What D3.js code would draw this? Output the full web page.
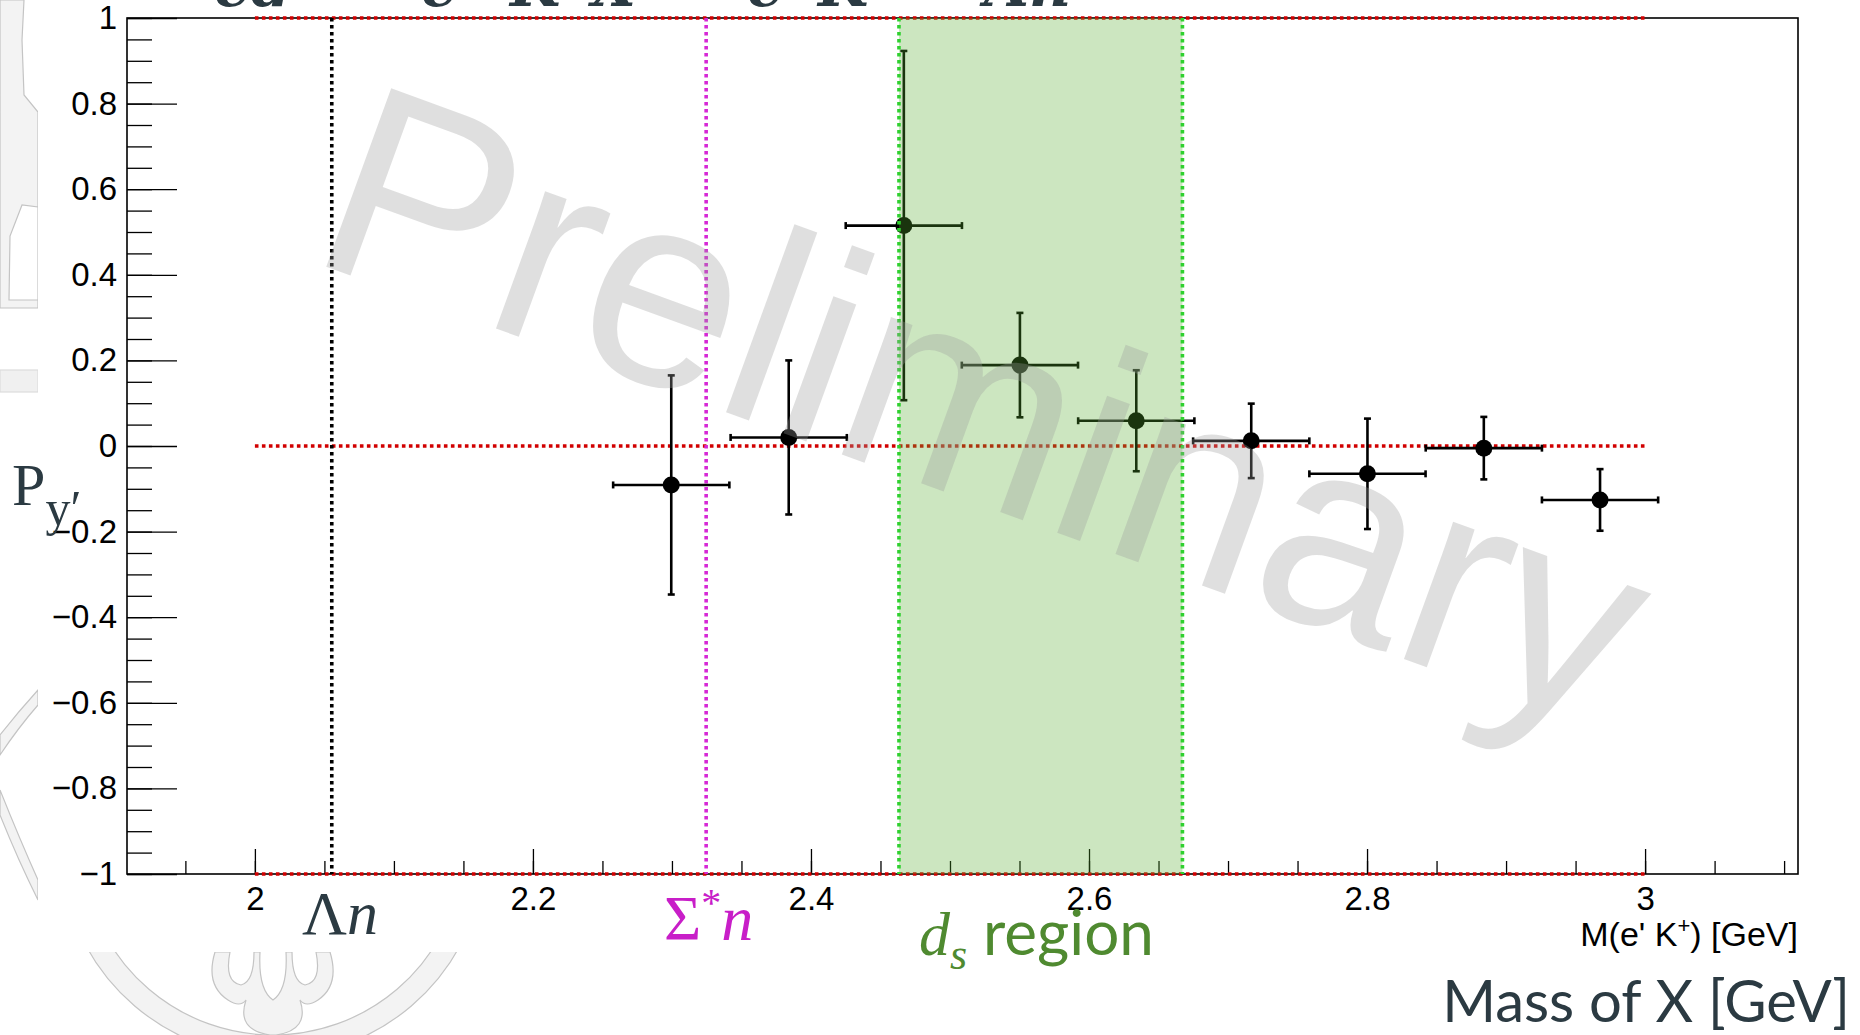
<!DOCTYPE html>
<html>
<head>
<meta charset="utf-8">
<script src="https://cdn.jsdelivr.net/npm/d3@7"></script>
<style>
  html, body { margin: 0; padding: 0; background: #fff; overflow: hidden; }
  svg { display: block; }
</style>
</head>
<body>
<svg id="chart" width="1860" height="1035"></svg>
<script>
// Polarization P_y' versus the invariant mass M(e' K+)
const massCenters  = [2.2995, 2.3840, 2.4668, 2.5503, 2.6340, 2.7167, 2.8003, 2.8840, 2.9676];
const massHalfBin  = [0.0418, 0.0418, 0.0418, 0.0418, 0.0418, 0.0418, 0.0418, 0.0418, 0.0418];
const polValues    = [-0.091, 0.020, 0.515, 0.189, 0.059, 0.012, -0.065, -0.005, -0.126];
const polErrors    = [0.256, 0.180, 0.408, 0.122, 0.118, 0.087, 0.129, 0.073, 0.072];

// Thresholds and region of interest (GeV)
const lambdaNThreshold    = 2.0553;
const sigmaStarNThreshold = 2.3246;
const dsRegion = [2.4633, 2.6672];

// Horizontal reference levels
const refLevels = [1, 0, -1];
const refRange  = [2, 3];

// Axis ticks
const xMajorTicks  = [2, 2.2, 2.4, 2.6, 2.8, 3];
const xTickLabels  = ["2", "2.2", "2.4", "2.6", "2.8", "3"];
const yMajorTicks  = [-1, -0.8, -0.6, -0.4, -0.2, 0, 0.2, 0.4, 0.6, 0.8, 1];
const yTickLabels  = ["\u22121", "\u22120.8", "\u22120.6", "\u22120.4", "\u22120.2", "0", "0.2", "0.4", "0.6", "0.8", "1"];
const xDomain = [1.908, 3.110];
const yDomain = [-1, 1];

const svg = d3.select("#chart");
const slateText = "#2b3a42";

// ---- faint emblem behind the slide ----
const seal = svg.append("g").attr("fill", "#f3f3f3").attr("stroke", "#c4c4c4").attr("stroke-width", 1.2);
seal.append("path").attr("d",
  "M0,0 L24,0 L22,40 L24,95 L38,112 L38,308 L0,308 Z");
seal.append("path").attr("d", "M9,300 L10,236 L22,205 L38,207 L38,300 L30,300 Z").attr("fill", "#fff");
seal.append("rect").attr("x", 0).attr("y", 370).attr("width", 38).attr("height", 22).attr("fill", "#f0f0f0").attr("stroke", "#dcdcdc");
seal.append("path").attr("d", "M0,735 Q18,712 38,690 L38,705 Q18,728 0,755 Z");
seal.append("path").attr("d", "M0,790 Q20,840 38,880 L38,900 Q18,860 0,815 Z");
// lower ring of the emblem
const ringC = [273, 844];
const ringArc = d3.arc().innerRadius(191).outerRadius(213).startAngle(Math.PI * 0.55).endAngle(Math.PI * 1.45);
seal.append("path").attr("d", ringArc()).attr("transform", `translate(${ringC[0]},${ringC[1]})`);
seal.append("path").attr("d",
  "M215,952 Q205,985 228,1000 Q240,1008 246,1000 Q236,1030 270,1035 L276,1035 Q310,1030 300,1000 Q306,1008 318,1000 Q340,985 330,952 L316,952 Q322,982 305,985 Q292,982 292,952 L286,952 Q288,990 273,1000 Q258,990 260,952 L254,952 Q254,982 241,985 Q224,982 230,952 Z");

// ---- white plot sheet ----
svg.append("rect").attr("x", 38).attr("y", 0).attr("width", 1822).attr("height", 952).attr("fill", "#fff");

// ---- reaction formula (clipped at the top edge) ----
const formula = svg.append("g").attr("fill", slateText)
  .attr("font-family", "'DejaVu Serif', 'Liberation Serif', serif").attr("font-size", 58)
  .attr("font-style", "italic").attr("font-weight", "bold");
[["ed", 214], ["e\u2032", 421], ["K\u207AX", 510], ["e\u2032", 747], ["K\u207A", 818], ["\u039Bn", 984]]
  .forEach(([t, px]) => formula.append("text").attr("x", px).attr("y", 6).text(t));

// ---- scales ----
const margin = { left: 127, right: 1798, top: 18, bottom: 874 };
const x = d3.scaleLinear().domain(xDomain).range([margin.left, margin.right]);
const y = d3.scaleLinear().domain(yDomain).range([margin.bottom, margin.top]);

const plot = svg.append("g");

// axes: minor ticks, then major ticks with labels (ticks point into the frame)
const yMinor = d3.range(-1, 1.0001, 0.05).map(v => +v.toFixed(2));
const xMinor = d3.range(1.95, 3.1001, 0.05).map(v => +v.toFixed(2));

const axisFont = "'Liberation Sans', Arial, Helvetica, sans-serif";
const tickFontSize = 33;

plot.append("g").attr("transform", `translate(${margin.left},0)`)
  .call(d3.axisLeft(y).tickValues(yMinor).tickSize(-25).tickFormat(""))
  .call(g => g.select(".domain").remove());
plot.append("g").attr("transform", `translate(${margin.left},0)`)
  .call(d3.axisLeft(y).tickValues(yMajorTicks).tickSize(-50).tickPadding(10)
    .tickFormat((d, i) => yTickLabels[i]))
  .call(g => g.select(".domain").remove())
  .call(g => g.selectAll("text").attr("font-family", axisFont).attr("font-size", tickFontSize).attr("fill", "#000"));

plot.append("g").attr("transform", `translate(0,${margin.bottom})`)
  .call(d3.axisBottom(x).tickValues(xMinor).tickSize(-13).tickFormat(""))
  .call(g => g.select(".domain").remove());
plot.append("g").attr("transform", `translate(0,${margin.bottom})`)
  .call(d3.axisBottom(x).tickValues(xMajorTicks).tickSize(-25).tickPadding(13)
    .tickFormat((d, i) => xTickLabels[i]))
  .call(g => g.select(".domain").remove())
  .call(g => g.selectAll("text").attr("font-family", axisFont).attr("font-size", tickFontSize).attr("fill", "#000"));

plot.selectAll(".tick line").attr("stroke", "#000").attr("stroke-width", 1.3);

// frame
plot.append("rect")
  .attr("x", margin.left).attr("y", margin.top)
  .attr("width", margin.right - margin.left).attr("height", margin.bottom - margin.top)
  .attr("fill", "none").attr("stroke", "#000").attr("stroke-width", 1.6);

// red dotted reference levels
const dotW = 3.6, dotDash = "3.6,3.4";
plot.selectAll(".ref").data(refLevels).join("line")
  .attr("x1", x(refRange[0])).attr("x2", x(refRange[1]))
  .attr("y1", d => y(d)).attr("y2", d => y(d))
  .attr("stroke", "#d10000").attr("stroke-width", dotW).attr("stroke-dasharray", dotDash);

// threshold lines
const vline = (xv, color) => plot.append("line")
  .attr("x1", x(xv)).attr("x2", x(xv)).attr("y1", y(1)).attr("y2", y(-1))
  .attr("stroke", color).attr("stroke-width", dotW).attr("stroke-dasharray", dotDash);
vline(lambdaNThreshold, "#000");
vline(sigmaStarNThreshold, "#d628d6");

// data: error bars and markers
const pts = massCenters.map((m, i) => ({ m, h: massHalfBin[i], v: polValues[i], e: polErrors[i] }));
const data = plot.append("g").attr("stroke", "#000").attr("stroke-width", 2.6);
const cap = 3.5;
pts.forEach(p => {
  data.append("line").attr("x1", x(p.m - p.h)).attr("x2", x(p.m + p.h)).attr("y1", y(p.v)).attr("y2", y(p.v));
  data.append("line").attr("x1", x(p.m)).attr("x2", x(p.m)).attr("y1", y(p.v + p.e)).attr("y2", y(p.v - p.e));
  data.append("line").attr("x1", x(p.m - p.h)).attr("x2", x(p.m - p.h)).attr("y1", y(p.v) - cap).attr("y2", y(p.v) + cap);
  data.append("line").attr("x1", x(p.m + p.h)).attr("x2", x(p.m + p.h)).attr("y1", y(p.v) - cap).attr("y2", y(p.v) + cap);
  data.append("line").attr("x1", x(p.m) - cap).attr("x2", x(p.m) + cap).attr("y1", y(p.v + p.e)).attr("y2", y(p.v + p.e));
  data.append("line").attr("x1", x(p.m) - cap).attr("x2", x(p.m) + cap).attr("y1", y(p.v - p.e)).attr("y2", y(p.v - p.e));
});
plot.append("g").selectAll("circle").data(pts).join("circle")
  .attr("cx", p => x(p.m)).attr("cy", p => y(p.v)).attr("r", 8.5).attr("fill", "#000");

// d_s region shading
plot.append("rect")
  .attr("x", x(dsRegion[0])).attr("y", y(1))
  .attr("width", x(dsRegion[1]) - x(dsRegion[0])).attr("height", y(-1) - y(1))
  .attr("fill", "rgb(85,172,45)").attr("fill-opacity", 0.3);
dsRegion.forEach(v => vline(v, "#2fd12f"));

// axis title
plot.append("text").attr("x", margin.right).attr("y", 946).attr("text-anchor", "end")
  .attr("font-family", axisFont).attr("font-size", 34).attr("fill", "#000")
  .html("M(e' K<tspan dy='-13' font-size='22'>+</tspan><tspan dy='13'>) [GeV]</tspan>");

// ---- slide annotations ----
const serif = "'Liberation Serif', 'DejaVu Serif', serif";
const sans = "Lato, 'Open Sans', sans-serif";
svg.append("text").attr("x", 12).attr("y", 505).attr("font-family", serif).attr("font-size", 60).attr("fill", slateText)
  .html("P<tspan dy='20' font-size='50'>y\u2032</tspan>");

svg.append("text").attr("x", 302).attr("y", 934).attr("font-family", serif).attr("font-size", 62).attr("fill", slateText)
  .html("\u039B<tspan font-style='italic'>n</tspan>");

svg.append("text").attr("x", 664).attr("y", 940).attr("font-family", serif).attr("font-size", 64).attr("fill", "#c81ec8")
  .html("\u03A3<tspan dy='-24' font-size='40'>*</tspan><tspan dy='24' font-style='italic'>n</tspan>");

svg.append("text").attr("x", 919).attr("y", 955).attr("fill", "#4f8a30").attr("font-size", 62)
  .html(`<tspan font-family="${serif}" font-style="italic">d</tspan><tspan font-family="${serif}" font-style="italic" font-size="44" dy="14">s</tspan><tspan font-family="${sans}" dy="-14"> region</tspan>`);

svg.append("text").attr("x", 1850).attr("y", 1022).attr("text-anchor", "end")
  .attr("font-family", sans).attr("font-size", 58).attr("fill", slateText)
  .text("Mass of X [GeV]");

// ---- watermark ----
svg.append("text").attr("transform", "translate(305,259) rotate(20)")
  .attr("font-family", axisFont).attr("font-size", 276)
  .attr("fill", "rgb(156,156,156)").attr("fill-opacity", 0.32)
  .text("Preliminary");
</script>
</body>
</html>
